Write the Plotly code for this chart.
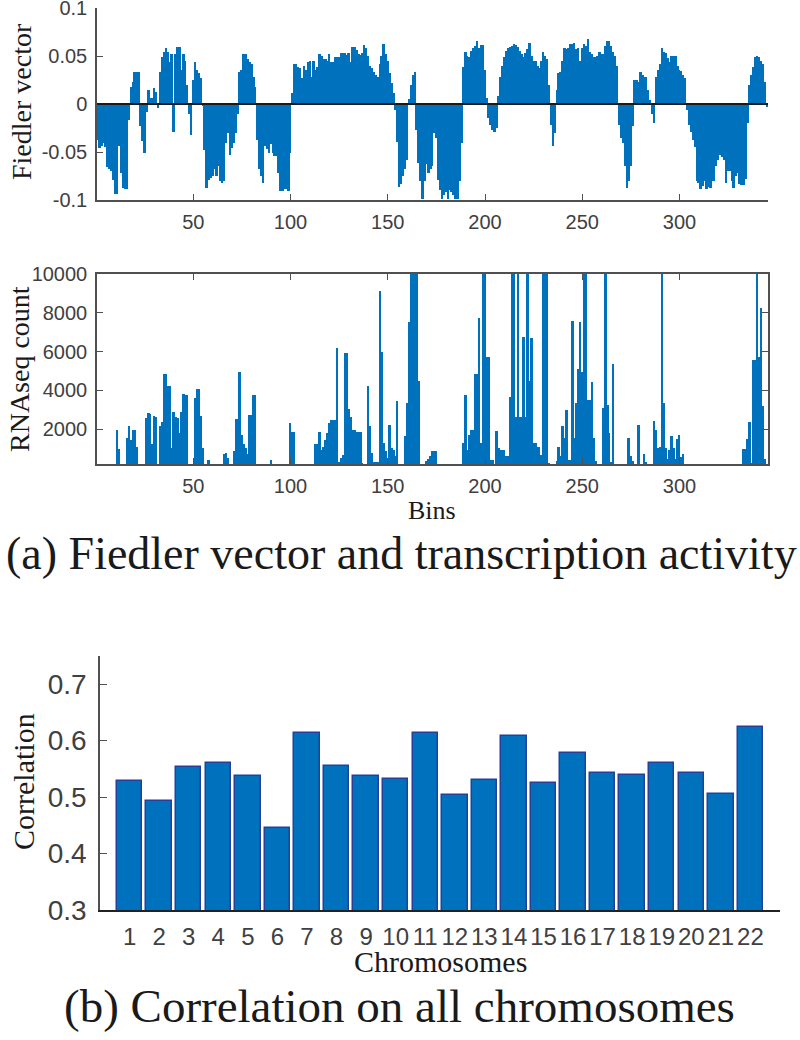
import plotly.graph_objects as go

# ---------------- data ----------------
bins = list(range(1, 346))

fiedler = [
    -0.037, -0.046, -0.044, -0.041, -0.045, -0.066, -0.068, -0.070, -0.079, -0.094,
    -0.094, -0.044, -0.072, -0.087, -0.089, -0.089, -0.017, 0.018, 0.023, 0.033,
    0.033, 0.033, -0.023, -0.039, -0.051, -0.008, 0.015, 0.006, 0.006, 0.017,
    0.012, -0.004, 0.033, 0.049, 0.054, 0.058, 0.054, 0.044, 0.052, -0.029,
    0.052, 0.059, 0.059, 0.035, 0.052, 0.045, 0.020, -0.010, -0.032, 0.025,
    0.044, 0.035, 0.032, 0.027, -0.002, -0.048, -0.087, -0.079, -0.077, -0.075,
    -0.068, -0.075, -0.065, -0.080, -0.082, -0.080, -0.041, -0.030, -0.053, -0.046,
    -0.041, -0.030, -0.010, 0.033, 0.035, 0.052, 0.052, 0.047, 0.044, 0.042,
    0.028, 0.018, -0.037, -0.068, -0.075, -0.082, -0.044, -0.047, -0.051, -0.042,
    -0.051, -0.054, -0.054, -0.072, -0.091, -0.091, -0.089, -0.089, -0.091, -0.051,
    0.011, 0.042, 0.042, 0.039, 0.037, 0.027, 0.040, 0.035, 0.044, 0.045,
    0.028, 0.045, 0.035, 0.039, 0.052, 0.050, 0.047, 0.047, 0.045, 0.052,
    0.044, 0.044, 0.049, 0.049, 0.049, 0.053, 0.053, 0.053, 0.051, 0.053,
    0.044, 0.059, 0.059, 0.056, 0.052, 0.051, 0.053, 0.061, 0.058, 0.050,
    0.040, 0.037, 0.033, 0.030, 0.028, 0.042, 0.050, 0.063, 0.052, 0.045,
    0.032, 0.022, 0.011, -0.006, -0.040, -0.086, -0.083, -0.075, -0.068, -0.058,
    0.005, 0.020, 0.030, 0.033, -0.027, -0.061, -0.080, -0.099, -0.080, -0.063,
    -0.072, -0.068, -0.065, -0.030, -0.035, -0.079, -0.090, -0.099, -0.095, -0.092,
    -0.099, -0.090, -0.092, -0.095, -0.099, -0.099, -0.080, -0.041, 0.039, 0.054,
    0.050, 0.049, 0.055, 0.058, 0.060, 0.066, 0.058, 0.061, 0.061, 0.035,
    0.006, -0.015, -0.022, -0.027, -0.029, -0.025, 0.008, 0.028, 0.040, 0.049,
    0.055, 0.058, 0.059, 0.060, 0.063, 0.061, 0.059, 0.055, 0.052, 0.049,
    0.053, 0.057, 0.064, 0.050, 0.045, 0.045, 0.040, 0.037, 0.045, 0.054,
    0.050, 0.047, 0.020, -0.022, -0.044, -0.030, 0.015, 0.032, 0.033, 0.045,
    0.058, 0.057, 0.058, 0.063, 0.063, 0.064, 0.057, 0.058, 0.045, 0.058,
    0.062, 0.060, 0.068, 0.054, 0.052, 0.049, 0.049, 0.050, 0.054, 0.052,
    0.052, 0.060, 0.066, 0.066, 0.060, 0.054, 0.050, 0.040, -0.022, -0.035,
    -0.041, -0.065, -0.087, -0.080, -0.065, -0.023, 0.025, 0.025, 0.023, 0.033,
    0.030, 0.028, 0.028, 0.015, 0.004, -0.010, -0.020, 0.028, 0.035, 0.042,
    0.058, 0.054, 0.053, 0.048, 0.044, 0.050, 0.050, 0.050, 0.040, 0.035,
    0.034, 0.030, 0.027, -0.006, -0.022, -0.029, -0.037, -0.045, -0.080, -0.082,
    -0.089, -0.085, -0.080, -0.089, -0.086, -0.087, -0.080, -0.080, -0.065, -0.058,
    -0.053, -0.055, -0.058, -0.082, -0.070, -0.070, -0.080, -0.087, -0.075, -0.072,
    -0.083, -0.084, -0.084, -0.078, -0.020, 0.020, 0.030, 0.039, 0.049, 0.050,
    0.049, 0.045, 0.042, 0.023, -0.003,
]

rnaseq = [
    0, 0, 0, 0, 0, 0, 0, 0, 0, 0,
    1950, 990, 0, 0, 0, 1540, 2140, 1450, 1960, 1960,
    1100, 0, 0, 0, 0, 2570, 2820, 2800, 1240, 2700,
    2650, 0, 2150, 2350, 4850, 4850, 4200, 4200, 1020, 2880,
    2600, 2570, 1800, 2880, 3820, 3770, 3770, 0, 0, 0,
    3630, 4060, 4060, 2700, 1050, 0, 0, 420, 0, 0,
    0, 0, 0, 0, 0, 710, 750, 500, 0, 0,
    850, 2500, 2500, 4970, 1700, 1240, 1050, 700, 2750, 2750,
    3770, 3770, 0, 0, 0, 0, 0, 0, 0, 390,
    0, 0, 0, 0, 0, 0, 0, 0, 0, 2300,
    1850, 1850, 0, 0, 0, 0, 0, 0, 0, 0,
    0, 0, 1240, 1240, 1830, 900, 1100, 1450, 1800, 2300,
    2480, 2480, 2480, 6170, 300, 500, 680, 5910, 5910, 3030,
    2650, 1970, 1970, 1830, 1830, 1830, 250, 0, 0, 4200,
    2140, 760, 300, 300, 300, 9140, 5980, 1280, 850, 0,
    2190, 1020, 940, 590, 3430, 0, 0, 0, 1660, 3340,
    7550, 12000, 12000, 12000, 12000, 4500, 0, 0, 0, 340,
    460, 590, 880, 880, 880, 0, 0, 0, 0, 0,
    0, 0, 0, 0, 0, 0, 0, 0, 1280, 3770,
    940, 1710, 1970, 1970, 4850, 4850, 7750, 1280, 12000, 12000,
    5740, 5740, 420, 420, 0, 1880, 1000, 940, 940, 940,
    590, 590, 3680, 11000, 11000, 2650, 11000, 2650, 2650, 6740,
    2650, 11000, 4460, 6690, 1280, 1280, 1100, 1100, 680, 11000,
    11000, 11000, 250, 0, 0, 0, 340, 1100, 590, 2140,
    1540, 3000, 420, 420, 7600, 1540, 3370, 5090, 7550, 4920,
    12000, 12000, 3480, 3480, 4420, 1540, 340, 0, 0, 0,
    3080, 12000, 3250, 1790, 300, 5370, 0, 0, 0, 0,
    0, 0, 0, 1540, 590, 340, 0, 0, 2190, 0,
    0, 730, 300, 0, 0, 0, 2430, 1970, 1020, 1100,
    12000, 3340, 1020, 450, 940, 1620, 1000, 450, 1500, 1680,
    540, 730, 0, 0, 0, 0, 0, 0, 0, 0,
    0, 0, 0, 0, 0, 0, 0, 0, 0, 0,
    0, 0, 0, 0, 0, 0, 0, 0, 0, 0,
    0, 0, 990, 990, 1480, 2360, 250, 5570, 5570, 12000,
    5740, 8230, 3170, 450, 0,
]

chromosome_ids = list(range(1, 23))
chromosome_labels = [str(i) for i in chromosome_ids]
correlation = [0.528, 0.494, 0.553, 0.561, 0.537, 0.445, 0.614, 0.555, 0.537, 0.532,
               0.613, 0.503, 0.530, 0.608, 0.525, 0.578, 0.542, 0.539, 0.560, 0.543,
               0.506, 0.624]

fiedler_tickvals = [-0.1, -0.05, 0, 0.05, 0.1]
fiedler_ticktext = ["-0.1", "-0.05", "0", "0.05", "0.1"]
bin_tickvals = [50, 100, 150, 200, 250, 300]
rna_tickvals = [2000, 4000, 6000, 8000, 10000]
rna_ticktext = ["2000", "4000", "6000", "8000", "10000"]
corr_tickvals = [0.3, 0.4, 0.5, 0.6, 0.7]
corr_ticktext = ["0.3", "0.4", "0.5", "0.6", "0.7"]

# ---------------- layout helpers ----------------
W, H = 800, 1040
def px(x):
    return x / W
def py(y):
    return 1 - y / H

BLUE = "#0072BD"
SANS = "Liberation Sans, Arial, sans-serif"
SERIF = "Liberation Serif, Times New Roman, serif"
TICKC = "#404040"
AXC = "#505050"

fig = go.Figure()
fig.add_trace(go.Bar(x=bins, y=fiedler, width=1, marker=dict(color=BLUE, line=dict(width=0)),
                     xaxis="x", yaxis="y", showlegend=False))
fig.add_trace(go.Bar(x=bins, y=rnaseq, width=1, marker=dict(color=BLUE, line=dict(width=0)),
                     xaxis="x2", yaxis="y2", showlegend=False))
fig.add_trace(go.Bar(x=chromosome_ids, y=correlation, width=0.86,
                     marker=dict(color=BLUE, line=dict(color="#26409a", width=1.5)),
                     xaxis="x3", yaxis="y3", showlegend=False))

tickfont_small = dict(family=SANS, size=20, color=TICKC)
tickfont_big = dict(family=SANS, size=28, color=TICKC)

common = dict(showgrid=False, zeroline=False, automargin=False, ticklabeloverflow="allow")

fig.update_layout(
    width=W, height=H,
    margin=dict(l=0, r=0, t=0, b=0, autoexpand=False),
    paper_bgcolor="white", plot_bgcolor="white",
    bargap=0,
    xaxis=dict(domain=[px(97), px(768)], range=[0.5, 345.5], anchor="y",
               tickmode="array", tickvals=bin_tickvals, ticks="inside", ticklen=6, tickcolor=AXC,
               showline=True, linecolor=AXC, linewidth=1.5,
               tickfont=tickfont_small, ticklabelstandoff=3, **common),
    yaxis=dict(domain=[py(200), py(8)], range=[-0.1, 0.1], anchor="x",
               tickmode="array", tickvals=fiedler_tickvals, ticktext=fiedler_ticktext,
               ticks="inside", ticklen=6, tickcolor=AXC,
               showline=True, linecolor=AXC, linewidth=1.5,
               tickfont=tickfont_small, ticklabelstandoff=4, **common),
    xaxis2=dict(domain=[px(97), px(768)], range=[0.5, 345.5], anchor="y2",
                tickmode="array", tickvals=bin_tickvals, ticks="inside", ticklen=6, tickcolor=AXC,
                showline=True, mirror="ticks", linecolor=AXC, linewidth=1.5,
                tickfont=tickfont_small, ticklabelstandoff=3, **common),
    yaxis2=dict(domain=[py(464), py(274)], range=[200, 10000], anchor="x2",
                tickmode="array", tickvals=rna_tickvals, ticktext=rna_ticktext,
                ticks="inside", ticklen=6, tickcolor=AXC,
                showline=True, mirror="ticks", linecolor=AXC, linewidth=1.5,
                tickfont=tickfont_small, ticklabelstandoff=4, **common),
    xaxis3=dict(domain=[px(100), px(780)], range=[0, 23], anchor="y3",
                tickmode="array", tickvals=chromosome_ids, ticktext=chromosome_labels, ticks="",
                showline=True, linecolor="#222222", linewidth=2,
                tickfont=dict(family=SANS, size=24, color=TICKC), ticklabelstandoff=4, tickangle=0,
                **common),
    yaxis3=dict(domain=[py(910), py(656)], range=[0.3, 0.75], anchor="x3",
                tickmode="array", tickvals=corr_tickvals, ticktext=corr_ticktext,
                ticks="inside", ticklen=7, tickcolor=AXC,
                showline=True, linecolor=AXC, linewidth=1.5,
                tickfont=tickfont_big, ticklabelstandoff=6, **common),
)

# zero baseline of the Fiedler panel
fig.add_shape(type="line", xref="x domain", yref="y", x0=0, x1=1, y0=0, y1=0,
              line=dict(color="#1a1a1a", width=2))

def label(text, x, y, size, angle=0):
    fig.add_annotation(text=text, x=px(x), y=py(y), xref="paper", yref="paper",
                       showarrow=False, textangle=angle, xanchor="center", yanchor="middle",
                       font=dict(family=SERIF, size=size, color="#1a1a1a"))

label("Fiedler vector", 22, 102, 28, -90)
label("RNAseq count", 19, 369, 28, -90)
label("Bins", 432, 510, 26)
label("(a) Fiedler vector and transcription activity", 401, 553, 46)
label("Correlation", 23, 782, 30, -90)
label("Chromosomes", 440, 961, 30)
label("(b) Correlation on all chromosomes", 399, 1006, 47)

# place the 800x1040 figure at the window's top-left corner (no default body margin)
fig.write_html("out.html", config={"displayModeBar": False},
               post_script="document.body.style.margin='0';document.body.style.overflow='hidden';")
